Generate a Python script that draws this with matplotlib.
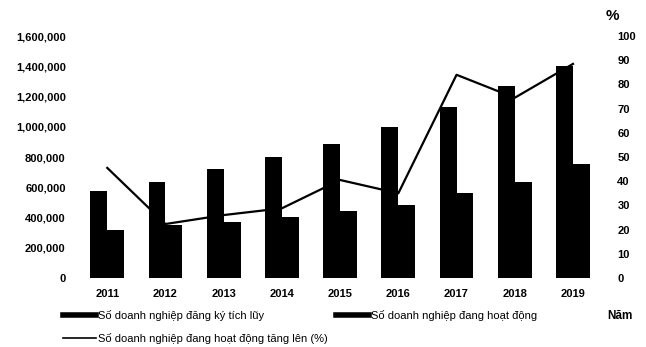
import matplotlib.pyplot as plt
import numpy as np
from matplotlib.lines import Line2D

years = ['2011', '2012', '2013', '2014', '2015', '2016', '2017', '2018', '2019']
registered = [572000, 637000, 724000, 800000, 885000, 1000000, 1130000, 1268000, 1405000]
active = [318000, 352000, 370000, 400000, 440000, 480000, 560000, 637000, 752000]
growth_pct = [45.5, 22.3, 26, 28.8, 40.5, 35, 84, 74.5, 88.5]

left_ticks = [0, 200000, 400000, 600000, 800000, 1000000, 1200000, 1400000, 1600000]
right_ticks = [0, 10, 20, 30, 40, 50, 60, 70, 80, 90, 100]

plt.rcParams['font.family'] = ['Liberation Sans', 'DejaVu Sans']

fig = plt.figure(figsize=(6.46, 3.47), dpi=100)
ax = fig.add_axes([0.121, 0.199, 0.811, 0.697])
ax2 = ax.twinx()

x = np.arange(len(years))
w = 0.29
ax.bar(x - w / 2, registered, width=w, color='black')
ax.bar(x + w / 2, active, width=w, color='black')
ax2.plot(x, growth_pct, color='black', linewidth=1.6)

ax.set_xlim(-0.5, len(years) - 0.5)
ax.set_ylim(0, 1600000)
ax2.set_ylim(0, 100)

ax.set_yticks(left_ticks)
ax.set_yticklabels([f'{v:,}' for v in left_ticks], fontsize=8, fontweight='bold')
ax2.set_yticks(right_ticks)
ax2.set_yticklabels([str(v) for v in right_ticks], fontsize=8, fontweight='bold')
ax.set_xticks(x)
ax.set_xticklabels(years, fontsize=8, fontweight='bold')

ax.tick_params(axis='y', length=0, pad=9)
ax2.tick_params(axis='y', length=0, pad=11)
ax.tick_params(axis='x', length=0, pad=8)

for a in (ax, ax2):
    for s in a.spines.values():
        s.set_visible(False)

fig.text(0.937, 0.955, '%', fontsize=11, fontweight='bold', ha='left', va='center')
fig.text(0.94, 0.09, 'Năm', fontsize=8.5, fontweight='bold', ha='left', va='center')

handles = [
    Line2D([], [], color='black', linewidth=4),
    Line2D([], [], color='black', linewidth=1.2),
    Line2D([], [], color='black', linewidth=4),
]
labels = [
    'Số doanh nghiệp đăng ký tích lũy',
    'Số doanh nghiệp đang hoạt động tăng lên (%)',
    'Số doanh nghiệp đang hoạt động',
]
fig.legend(handles, labels, ncol=2, loc='upper left', bbox_to_anchor=(0.098, 0.107),
           frameon=False, fontsize=8, handlelength=2.9, handletextpad=0.2,
           columnspacing=0.8, labelspacing=1.1, borderaxespad=0, borderpad=0)

fig.savefig('out.png', dpi=100)
